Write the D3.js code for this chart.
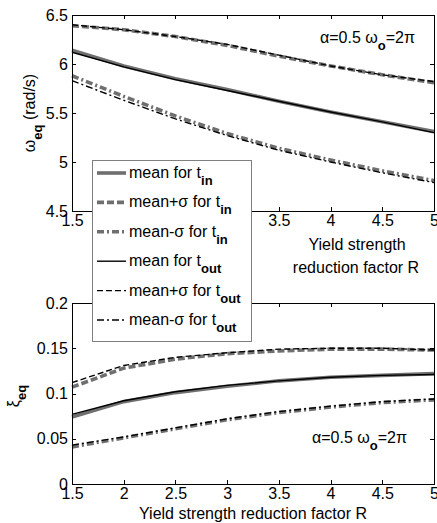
<!DOCTYPE html>
<html>
<head>
<meta charset="utf-8">
<script src="https://cdn.jsdelivr.net/npm/d3@7"></script>
<style>
  html, body { margin: 0; padding: 0; background: #fff; }
  svg { display: block; }
  text { font-family: "Liberation Sans", Arial, Helvetica, sans-serif; fill: #000; }
</style>
</head>
<body>
<svg id="chart" width="437" height="523"></svg>
<script>
// ---------------- data ----------------
const R = [1.5, 2, 2.5, 3, 3.5, 4, 4.5, 5];
const xTicks = [1.5, 2, 2.5, 3, 3.5, 4, 4.5, 5];
const omegaTicks = [4.5, 5, 5.5, 6, 6.5];
const xiTicks = [0, 0.05, 0.1, 0.15, 0.2];

const omegaMeanIn   = [6.14, 5.98, 5.85, 5.74, 5.62, 5.51, 5.41, 5.31];
const omegaPlusIn   = [6.39, 6.35, 6.28, 6.19, 6.08, 5.98, 5.89, 5.81];
const omegaMinusIn  = [5.88, 5.67, 5.47, 5.29, 5.14, 5.02, 4.91, 4.81];
const omegaMeanOut  = [6.12, 5.97, 5.84, 5.73, 5.62, 5.51, 5.41, 5.30];
const omegaPlusOut  = [6.40, 6.35, 6.28, 6.20, 6.09, 5.98, 5.89, 5.82];
const omegaMinusOut = [5.83, 5.63, 5.44, 5.27, 5.12, 5.00, 4.89, 4.79];

const xiMeanIn   = [0.074, 0.091, 0.101, 0.108, 0.114, 0.118, 0.120, 0.122];
const xiPlusIn   = [0.107, 0.128, 0.138, 0.144, 0.147, 0.149, 0.149, 0.148];
const xiMinusIn  = [0.041, 0.051, 0.061, 0.071, 0.079, 0.085, 0.090, 0.093];
const xiMeanOut  = [0.077, 0.092, 0.102, 0.109, 0.114, 0.118, 0.120, 0.121];
const xiPlusOut  = [0.112, 0.131, 0.140, 0.145, 0.149, 0.150, 0.150, 0.148];
const xiMinusOut = [0.043, 0.052, 0.062, 0.072, 0.080, 0.086, 0.091, 0.094];

const legendMain = ["mean for t", "mean+\u03c3 for t", "mean-\u03c3 for t",
                    "mean for t", "mean+\u03c3 for t", "mean-\u03c3 for t"];
const legendSub  = ["in", "in", "in", "out", "out", "out"];

// ---------------- styles ----------------
const GRAY = "#6f6f6f";
const styles = [
  { color: GRAY, width: 3.6, dash: null },
  { color: GRAY, width: 3.6, dash: "7,3" },
  { color: GRAY, width: 3.6, dash: "7,3,2,3" },
  { color: "#000", width: 1.4, dash: null },
  { color: "#000", width: 1.4, dash: "6,3" },
  { color: "#000", width: 1.4, dash: "7,3,2,3" }
];

const svg = d3.select("#chart");
const FS = 16;
const LEG = { x: 92, y: 160, w: 159, h: 181 };

const x = d3.scaleLinear().domain([1.5, 5]).range([72, 434]);
const yTop = d3.scaleLinear().domain([4.5, 6.5]).range([211, 15]);
const yBot = d3.scaleLinear().domain([0, 0.2]).range([484, 303]);

function drawPanel(y, yTickVals, series, yFmt, hideUnderLegend) {
  const g = svg.append("g");
  const [y0, y1] = y.range();
  const [x0, x1] = x.range();

  const line = (vals) => d3.line().x((d, i) => x(R[i])).y(d => y(d))(vals);
  series.forEach((vals, k) => {
    const s = styles[k];
    g.append("path").attr("d", line(vals))
      .attr("fill", "none").attr("stroke", s.color)
      .attr("stroke-width", s.width)
      .attr("stroke-dasharray", s.dash)
      .attr("stroke-linejoin", "round");
  });

  const axB = g.append("g").attr("transform", `translate(0,${y0})`)
    .call(d3.axisBottom(x).tickValues(xTicks).tickSize(-4).tickPadding(4)
      .tickFormat(d3.format("")));
  const axT = g.append("g").attr("transform", `translate(0,${y1})`)
    .call(d3.axisTop(x).tickValues(xTicks).tickSize(-4).tickFormat(""));
  const axL = g.append("g").attr("transform", `translate(${x0},0)`)
    .call(d3.axisLeft(y).tickValues(yTickVals).tickSize(-4).tickPadding(4)
      .tickFormat(yFmt));
  const axR = g.append("g").attr("transform", `translate(${x1},0)`)
    .call(d3.axisRight(y).tickValues(yTickVals).tickSize(-4).tickFormat(""));
  [axB, axT, axL, axR].forEach(a => {
    a.select(".domain").remove();
    a.selectAll("line").attr("stroke", "#000").attr("shape-rendering", "crispEdges");
    a.selectAll("text").attr("font-size", FS)
      .attr("font-family", "'Liberation Sans', Arial, sans-serif").attr("fill", "#000");
  });
  if (hideUnderLegend) {
    // tick labels fully covered by the legend box are not visible in the original
    axB.selectAll(".tick").filter(d => x(d) - 12 > LEG.x && x(d) + 12 < LEG.x + LEG.w)
      .select("text").remove();
  }
  g.append("rect").attr("x", x0).attr("y", y1)
    .attr("width", x1 - x0).attr("height", y0 - y1)
    .attr("fill", "none").attr("stroke", "#000").attr("stroke-width", 1)
    .attr("shape-rendering", "crispEdges");
  return g;
}

drawPanel(yTop, omegaTicks,
  [omegaMeanIn, omegaPlusIn, omegaMinusIn, omegaMeanOut, omegaPlusOut, omegaMinusOut],
  d3.format(""), true);
drawPanel(yBot, xiTicks,
  [xiMeanIn, xiPlusIn, xiMinusIn, xiMeanOut, xiPlusOut, xiMinusOut],
  d3.format(""), false);

function subText(parent, xx, yy, parts, anchor) {
  const t = parent.append("text").attr("x", xx).attr("y", yy)
    .attr("font-size", FS).attr("text-anchor", anchor || "start");
  let shift = 0;
  parts.forEach(p => {
    const sp = t.append("tspan").text(p.t);
    const target = p.sub ? 7 : 0;
    if (target !== shift) { sp.attr("dy", target - shift); shift = target; }
    if (p.sub) sp.attr("font-size", 13).attr("font-weight", "bold");
  });
  return t;
}

subText(svg, 320, 43, [{t: "\u03b1=0.5 \u03c9"}, {t: "o", sub: true}, {t: "=2\u03c0"}]);
subText(svg, 312, 443, [{t: "\u03b1=0.5 \u03c9"}, {t: "o", sub: true}, {t: "=2\u03c0"}]);

svg.append("text").attr("x", 357).attr("y", 250).attr("text-anchor", "middle")
  .attr("font-size", FS).text("Yield strength");
svg.append("text").attr("x", 356).attr("y", 273).attr("text-anchor", "middle")
  .attr("font-size", FS).text("reduction factor R");
svg.append("text").attr("x", 253).attr("y", 519).attr("text-anchor", "middle")
  .attr("font-size", FS).text("Yield strength reduction factor R");

const yl1 = svg.append("g").attr("transform", "translate(35,113) rotate(-90)");
subText(yl1, 0, 0, [{t: "\u03c9"}, {t: "eq", sub: true}, {t: " (rad/s)"}], "middle");
const yl2 = svg.append("g").attr("transform", "translate(19,396) rotate(-90)");
subText(yl2, 0, 0, [{t: "\u03be"}, {t: "eq", sub: true}], "middle");

const leg = svg.append("g");
leg.append("rect").attr("x", LEG.x).attr("y", LEG.y).attr("width", LEG.w).attr("height", LEG.h)
  .attr("fill", "#fff").attr("stroke", "#808080").attr("stroke-width", 1)
  .attr("shape-rendering", "crispEdges");
legendMain.forEach((m, i) => {
  const base = 178 + i * 29.4;
  const s = styles[i];
  leg.append("line").attr("x1", 97).attr("x2", 126)
    .attr("y1", base - 5).attr("y2", base - 5)
    .attr("stroke", s.color).attr("stroke-width", s.width)
    .attr("stroke-dasharray", s.dash);
  subText(leg, 129, base, [{t: m}, {t: legendSub[i], sub: true}]);
});
</script>
</body>
</html>
